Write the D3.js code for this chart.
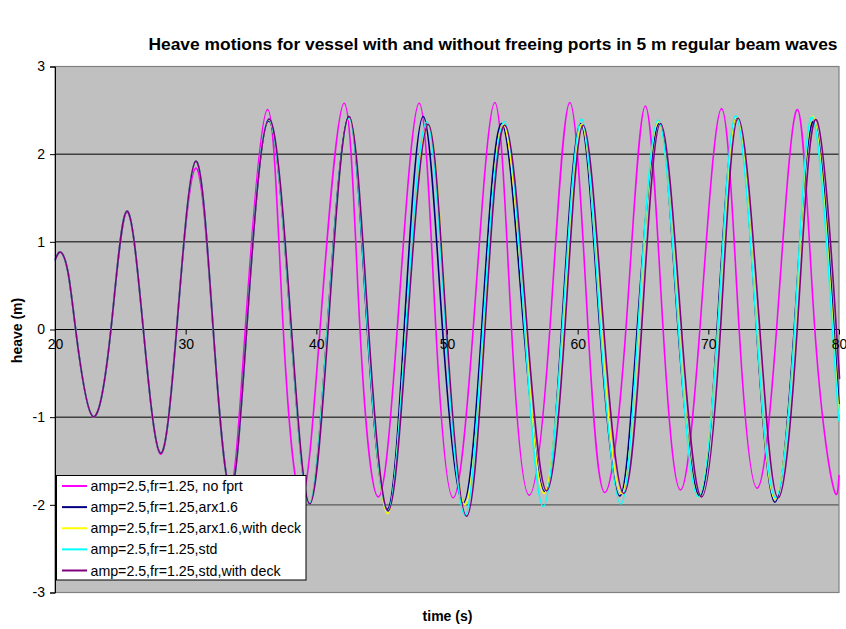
<!DOCTYPE html>
<html>
<head>
<meta charset="utf-8">
<script src="https://cdn.jsdelivr.net/npm/d3@7"></script>
<style>
  html, body { margin: 0; padding: 0; background: #ffffff; }
  svg { display: block; font-family: "Liberation Sans", Arial, Helvetica, sans-serif; }
</style>
</head>
<body>
<svg id="chart" width="846" height="629"></svg>
<script>
// Heave time histories: [time (s), heave (m)] at crests, troughs and zero crossings.
const noFreeingPorts = [
  [20, 0.79], [20.46, 0.88], [21.0, 0.65], [21.58, 0], [22.88, -0.99], [24.28, 0], [25.49, 1.34],
  [26.76, 0], [28.06, -1.42], [29.3, 0], [30.77, 1.84], [32.1, 0], [33.38, -1.8],
  [34.56, 0], [36.27, 2.51], [37.47, 0], [38.85, -1.92], [40.28, 0], [42.13, 2.58],
  [43.34, 0], [44.74, -1.91], [46.19, 0], [47.87, 2.58], [49.15, 0], [50.47, -1.92],
  [52.0, 0], [53.66, 2.59], [54.94, 0], [56.29, -1.89], [57.87, 0], [59.4, 2.59],
  [60.8, 0], [62.08, -1.86], [63.69, 0], [65.18, 2.55], [66.54, 0], [67.87, -1.83],
  [69.35, 0], [71.01, 2.52], [72.36, 0], [73.73, -1.81], [75.22, 0], [76.82, 2.51],
  [78.15, 0], [79.55, -1.79], [80, -1.66]
];

// Start-up transient shared by the four freeing-port runs.
const startUp = [
  [20, 0.79], [20.46, 0.88], [21.0, 0.65], [21.58, 0], [22.88, -0.99], [24.28, 0], [25.49, 1.35],
  [26.76, 0], [28.06, -1.41], [29.31, 0], [30.77, 1.92], [32.11, 0], [33.42, -1.83],
  [34.67, 0]
];

const arx16 = [
  [36.35, 2.38], [38.06, 0], [39.46, -1.99], [40.83, 0], [42.49, 2.43], [43.9, 0],
  [45.42, -2.05], [46.72, 0], [48.18, 2.43], [49.66, 0], [51.24, -1.98], [52.65, 0],
  [54.18, 2.35], [55.88, 0], [57.49, -1.85], [58.77, 0], [60.22, 2.35], [61.7, 0],
  [63.23, -1.9], [64.55, 0], [66.24, 2.35], [67.69, 0], [69.35, -1.9], [70.67, 0],
  [72.16, 2.41], [73.69, 0], [75.09, -1.97], [76.57, 0], [78.1, 2.37], [79.62, 0],
  [80, -0.85]
];

const arx16Deck = [
  [36.35, 2.39], [38.08, 0], [39.46, -1.99], [40.85, 0], [42.52, 2.41], [43.95, 0],
  [45.46, -2.1], [46.85, 0], [48.56, 2.34], [49.97, 0], [51.37, -2.0], [52.8, 0],
  [54.3, 2.34], [55.98, 0], [57.41, -1.87], [58.85, 0], [60.3, 2.34], [61.8, 0],
  [63.36, -1.87], [64.65, 0], [66.16, 2.37], [67.75, 0], [69.22, -1.91], [70.72, 0],
  [72.16, 2.42], [73.72, 0], [75.09, -1.93], [76.62, 0], [78.02, 2.43], [79.55, 0],
  [80, -0.97]
];

const standard = [
  [36.35, 2.4], [38.08, 0], [39.46, -1.99], [40.85, 0], [42.5, 2.41], [43.93, 0],
  [45.46, -2.07], [46.85, 0], [48.44, 2.37], [49.9, 0], [51.37, -2.12], [52.75, 0],
  [54.38, 2.37], [55.95, 0], [57.36, -2.02], [58.82, 0], [60.3, 2.4], [61.75, 0],
  [63.3, -1.99], [64.62, 0], [66.16, 2.39], [67.72, 0], [69.22, -1.91], [70.72, 0],
  [72.1, 2.44], [73.7, 0], [75.14, -1.92], [76.6, 0], [77.97, 2.42], [79.5, 0],
  [80, -1.05]
];

const standardDeck = [
  [36.38, 2.4], [38.1, 0], [39.5, -1.99], [40.9, 0], [42.5, 2.43], [44.0, 0],
  [45.5, -2.07], [46.95, 0], [48.56, 2.34], [49.97, 0], [51.5, -2.13], [52.9, 0],
  [54.43, 2.33], [56.14, 0], [57.62, -1.84], [59.02, 0], [60.42, 2.33], [62.0, 0],
  [63.53, -1.87], [64.89, 0], [66.34, 2.35], [67.95, 0], [69.48, -1.91], [70.93, 0],
  [72.28, 2.41], [73.94, 0], [75.34, -1.92], [76.8, 0], [78.28, 2.39], [79.8, 0],
  [80, -0.45]
];

const seriesNames = [
  "amp=2.5,fr=1.25, no fprt",
  "amp=2.5,fr=1.25,arx1.6",
  "amp=2.5,fr=1.25,arx1.6,with deck",
  "amp=2.5,fr=1.25,std",
  "amp=2.5,fr=1.25,std,with deck"
];
const seriesColors = ["#ff00ff", "#000080", "#ffff00", "#00ffff", "#800080"];
const seriesData = [
  noFreeingPorts,
  startUp.concat(arx16),
  startUp.concat(arx16Deck),
  startUp.concat(standard),
  startUp.concat(standardDeck)
];

const xTicks = [20, 30, 40, 50, 60, 70, 80];
const yTicks = [-3, -2, -1, 0, 1, 2, 3];

const titleText = "Heave motions for vessel with and without freeing ports in 5 m regular beam waves";
const xTitle = "time (s)";
const yTitle = "heave (m)";

// ---- layout ----
const svg = d3.select("#chart");
const plot = { left: 55, right: 839, top: 66.5, bottom: 592.5 };

const x = d3.scaleLinear().domain([20, 80]).range([plot.left, plot.right]);
const y = d3.scaleLinear().domain([-3, 3]).range([plot.bottom, plot.top]);

// plain hyphen-minus for negative tick labels
const tickLabel = d => String(d);

// plot background
svg.append("rect")
  .attr("x", plot.left).attr("y", plot.top)
  .attr("width", plot.right - plot.left).attr("height", plot.bottom - plot.top)
  .attr("fill", "#c0c0c0");

// horizontal gridlines (the lowest one renders softer)
svg.append("g").selectAll("line")
  .data(yTicks.filter(v => v !== 0 && v !== 3 && v !== -3))
  .join("line")
  .attr("x1", plot.left).attr("x2", plot.right)
  .attr("y1", d => y(d)).attr("y2", d => y(d))
  .attr("stroke", d => d === -2 ? "#5a5a5a" : "#000")
  .attr("stroke-width", d => d === -2 ? 1.4 : 1);

// plot area frame
svg.append("rect")
  .attr("x", plot.left).attr("y", plot.top)
  .attr("width", plot.right - plot.left).attr("height", plot.bottom - plot.top)
  .attr("fill", "none").attr("stroke", "#808080").attr("stroke-width", 1.2);

// x axis line at heave = 0
svg.append("line")
  .attr("x1", plot.left).attr("x2", plot.right)
  .attr("y1", y(0)).attr("y2", y(0))
  .attr("stroke", "#000").attr("stroke-width", 1);

// series
const line = d3.line()
  .x(d => x(d[0]))
  .y(d => y(d[1]))
  .curve(d3.curveNatural);

svg.append("g").selectAll("path")
  .data(seriesData)
  .join("path")
  .attr("d", d => line(d))
  .attr("fill", "none")
  .attr("stroke", (d, i) => seriesColors[i])
  .attr("stroke-width", 1.6)
  .attr("stroke-linejoin", "round");

// y axis
const yAxis = d3.axisLeft(y).tickValues(yTicks).tickSize(5).tickPadding(5)
  .tickFormat(tickLabel);
const gy = svg.append("g").attr("transform", `translate(${plot.left},0)`).call(yAxis);
gy.select(".domain").attr("stroke", "#000");
gy.selectAll(".tick line").attr("stroke", "#000");
gy.selectAll(".tick text")
  .attr("font-size", 14).attr("fill", "#000")
  .attr("font-family", "'Liberation Sans', Arial, sans-serif");

// x axis (crossing at heave = 0)
const xAxis = d3.axisBottom(x).tickValues(xTicks).tickSize(5).tickPadding(5)
  .tickFormat(tickLabel);
const gx = svg.append("g").attr("transform", `translate(0,${y(0)})`).call(xAxis);
gx.select(".domain").remove();
gx.selectAll(".tick line").attr("stroke", "#000");
gx.selectAll(".tick text")
  .attr("font-size", 14).attr("fill", "#000")
  .attr("font-family", "'Liberation Sans', Arial, sans-serif");

// titles
svg.append("text")
  .attr("x", 493).attr("y", 50)
  .attr("text-anchor", "middle")
  .attr("font-size", 17.4).attr("font-weight", "bold")
  .text(titleText);

svg.append("text")
  .attr("x", 447.5).attr("y", 621)
  .attr("text-anchor", "middle")
  .attr("font-size", 14).attr("font-weight", "bold")
  .text(xTitle);

svg.append("text")
  .attr("transform", "translate(22,330.5) rotate(-90)")
  .attr("text-anchor", "middle")
  .attr("font-size", 14).attr("font-weight", "bold")
  .text(yTitle);

// legend
const legend = svg.append("g");
legend.append("rect")
  .attr("x", 56.5).attr("y", 475.5)
  .attr("width", 249.5).attr("height", 104.5)
  .attr("fill", "#fff").attr("stroke", "#000").attr("stroke-width", 1);

const rowY = d3.scalePoint().domain(d3.range(seriesNames.length)).range([486, 570.5]);
const entries = legend.selectAll("g.entry")
  .data(seriesNames)
  .join("g")
  .attr("class", "entry")
  .attr("transform", (d, i) => `translate(0,${rowY(i)})`);
entries.append("line")
  .attr("x1", 62).attr("x2", 87)
  .attr("y1", 0).attr("y2", 0)
  .attr("stroke", (d, i) => seriesColors[i])
  .attr("stroke-width", 2);
entries.append("text")
  .attr("x", 90.5).attr("y", 5)
  .attr("font-size", 14.2)
  .text(d => d);
</script>
</body>
</html>
